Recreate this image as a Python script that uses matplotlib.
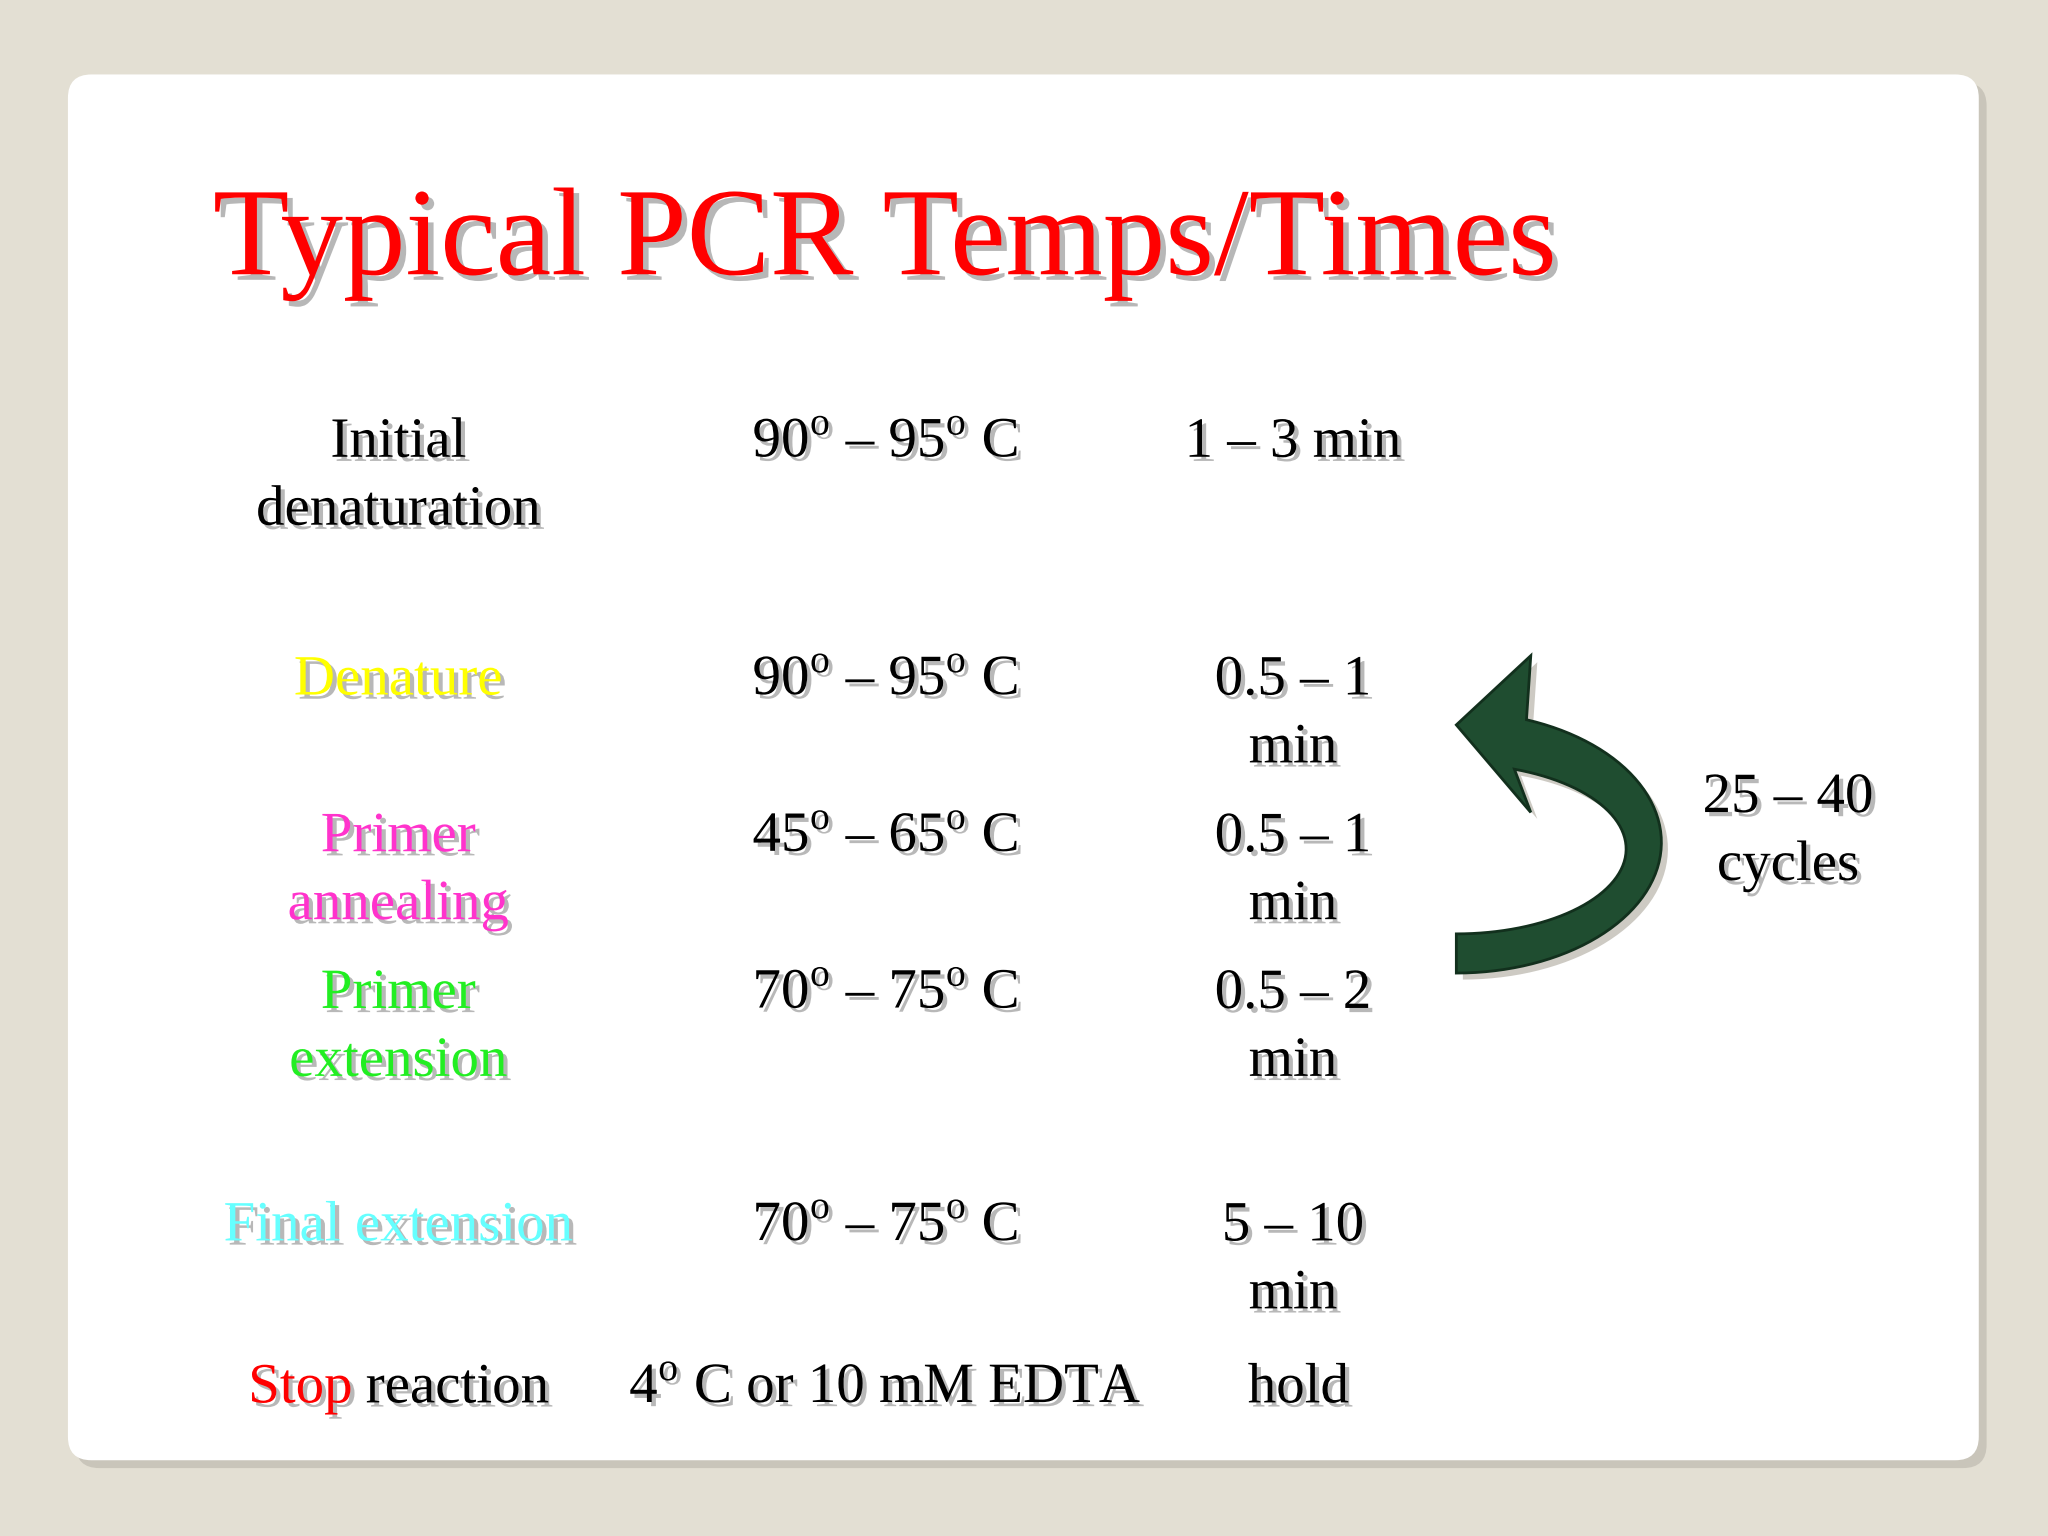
import numpy as np
import matplotlib.pyplot as plt
import matplotlib.patheffects as pe
from matplotlib.patches import FancyBboxPatch, Polygon

plt.rcParams['font.family'] = ['Liberation Serif', 'DejaVu Serif']
plt.rcParams['mathtext.fontset'] = 'custom'
plt.rcParams['mathtext.rm'] = 'Liberation Serif'

# slide content: (label lines, colour), temperature, time lines, row y (display px)
step_lines = [["Initial", "denaturation"], ["Denature"], ["Primer", "annealing"],
              ["Primer", "extension"], ["Final extension"]]
step_colors = ['black', '#FFFF00', '#FF33CC', '#22EE22', '#66FFFF']
temps = [r"90$^{\rm o}$ – 95$^{\rm o}$ C", r"90$^{\rm o}$ – 95$^{\rm o}$ C",
         r"45$^{\rm o}$ – 65$^{\rm o}$ C", r"70$^{\rm o}$ – 75$^{\rm o}$ C",
         r"70$^{\rm o}$ – 75$^{\rm o}$ C"]
times = [["1 – 3 min"], ["0.5 – 1", "min"], ["0.5 – 1", "min"], ["0.5 – 2", "min"], ["5 – 10", "min"]]
row_y = [339, 521, 641, 761, 939]
cycles = ["25 – 40", "cycles"]

W, H = 1568, 1176
LINE = 52
FS = 41

fig = plt.figure(figsize=(20.48, 15.36), dpi=100)
fig.patch.set_facecolor('#E3DFD3')
ax = fig.add_axes([0, 0, 1, 1])
ax.set_xlim(0, W)
ax.set_ylim(H, 0)
ax.axis('off')

# card with shadow
ax.add_patch(FancyBboxPatch((58, 63), 1463, 1061, boxstyle="round,pad=0,rounding_size=18",
                            fc='#B8B4AA', ec='none', alpha=0.6))
ax.add_patch(FancyBboxPatch((52, 57), 1463, 1061, boxstyle="round,pad=0,rounding_size=18",
                            fc='white', ec='none'))

shadow = [pe.SimplePatchShadow(offset=(3, -3), shadow_rgbFace='#9A9A9A', alpha=0.7), pe.Normal()]

def txt(x, y, s, color='black', size=FS, ha='center'):
    ax.text(x, y, s, color=color, fontsize=size, ha=ha, va='center', path_effects=shadow)

ax.text(163, 187, "Typical PCR Temps/Times", color='#FF0000', fontsize=90, ha='left', va='center',
        path_effects=[pe.SimplePatchShadow(offset=(4, -4), shadow_rgbFace='#999999', alpha=0.7), pe.Normal()])

for lines, col, tmp, tm, y in zip(step_lines, step_colors, temps, times, row_y):
    for i, l in enumerate(lines):
        txt(305, y + i * LINE, l, col)
    txt(678, y, tmp)
    for i, l in enumerate(tm):
        txt(990, y + i * LINE, l)

# last row
txt(190, 1063, "Stop", '#FF0000', ha='left')
txt(280, 1063, "reaction", ha='left')
txt(678, 1063, r"4$^{\rm o}$ C or 10 mM EDTA")
txt(994, 1063, "hold")

for i, l in enumerate(cycles):
    txt(1369, 611 + i * LINE, l)

# curved arrow
t = np.linspace(np.radians(-70), np.radians(90), 60)
outer = np.column_stack([1115 + 157 * np.cos(t), 645 + 100 * np.sin(t)])
ti = t[::-1]
inner = np.column_stack([1115 + 130 * np.cos(ti), 650 + 65 * np.sin(ti)])
head = np.array([[1172, 622], [1115, 555], [1172, 502]])
pts = np.vstack([head, outer, inner])
ax.add_patch(Polygon(pts + [5, 5], closed=True, fc='#B8B4AA', ec='none', alpha=0.7))
ax.add_patch(Polygon(pts, closed=True, fc='#1F4D30', ec='#12301D', lw=2))

fig.savefig('out.png', dpi=100, facecolor=fig.get_facecolor())
